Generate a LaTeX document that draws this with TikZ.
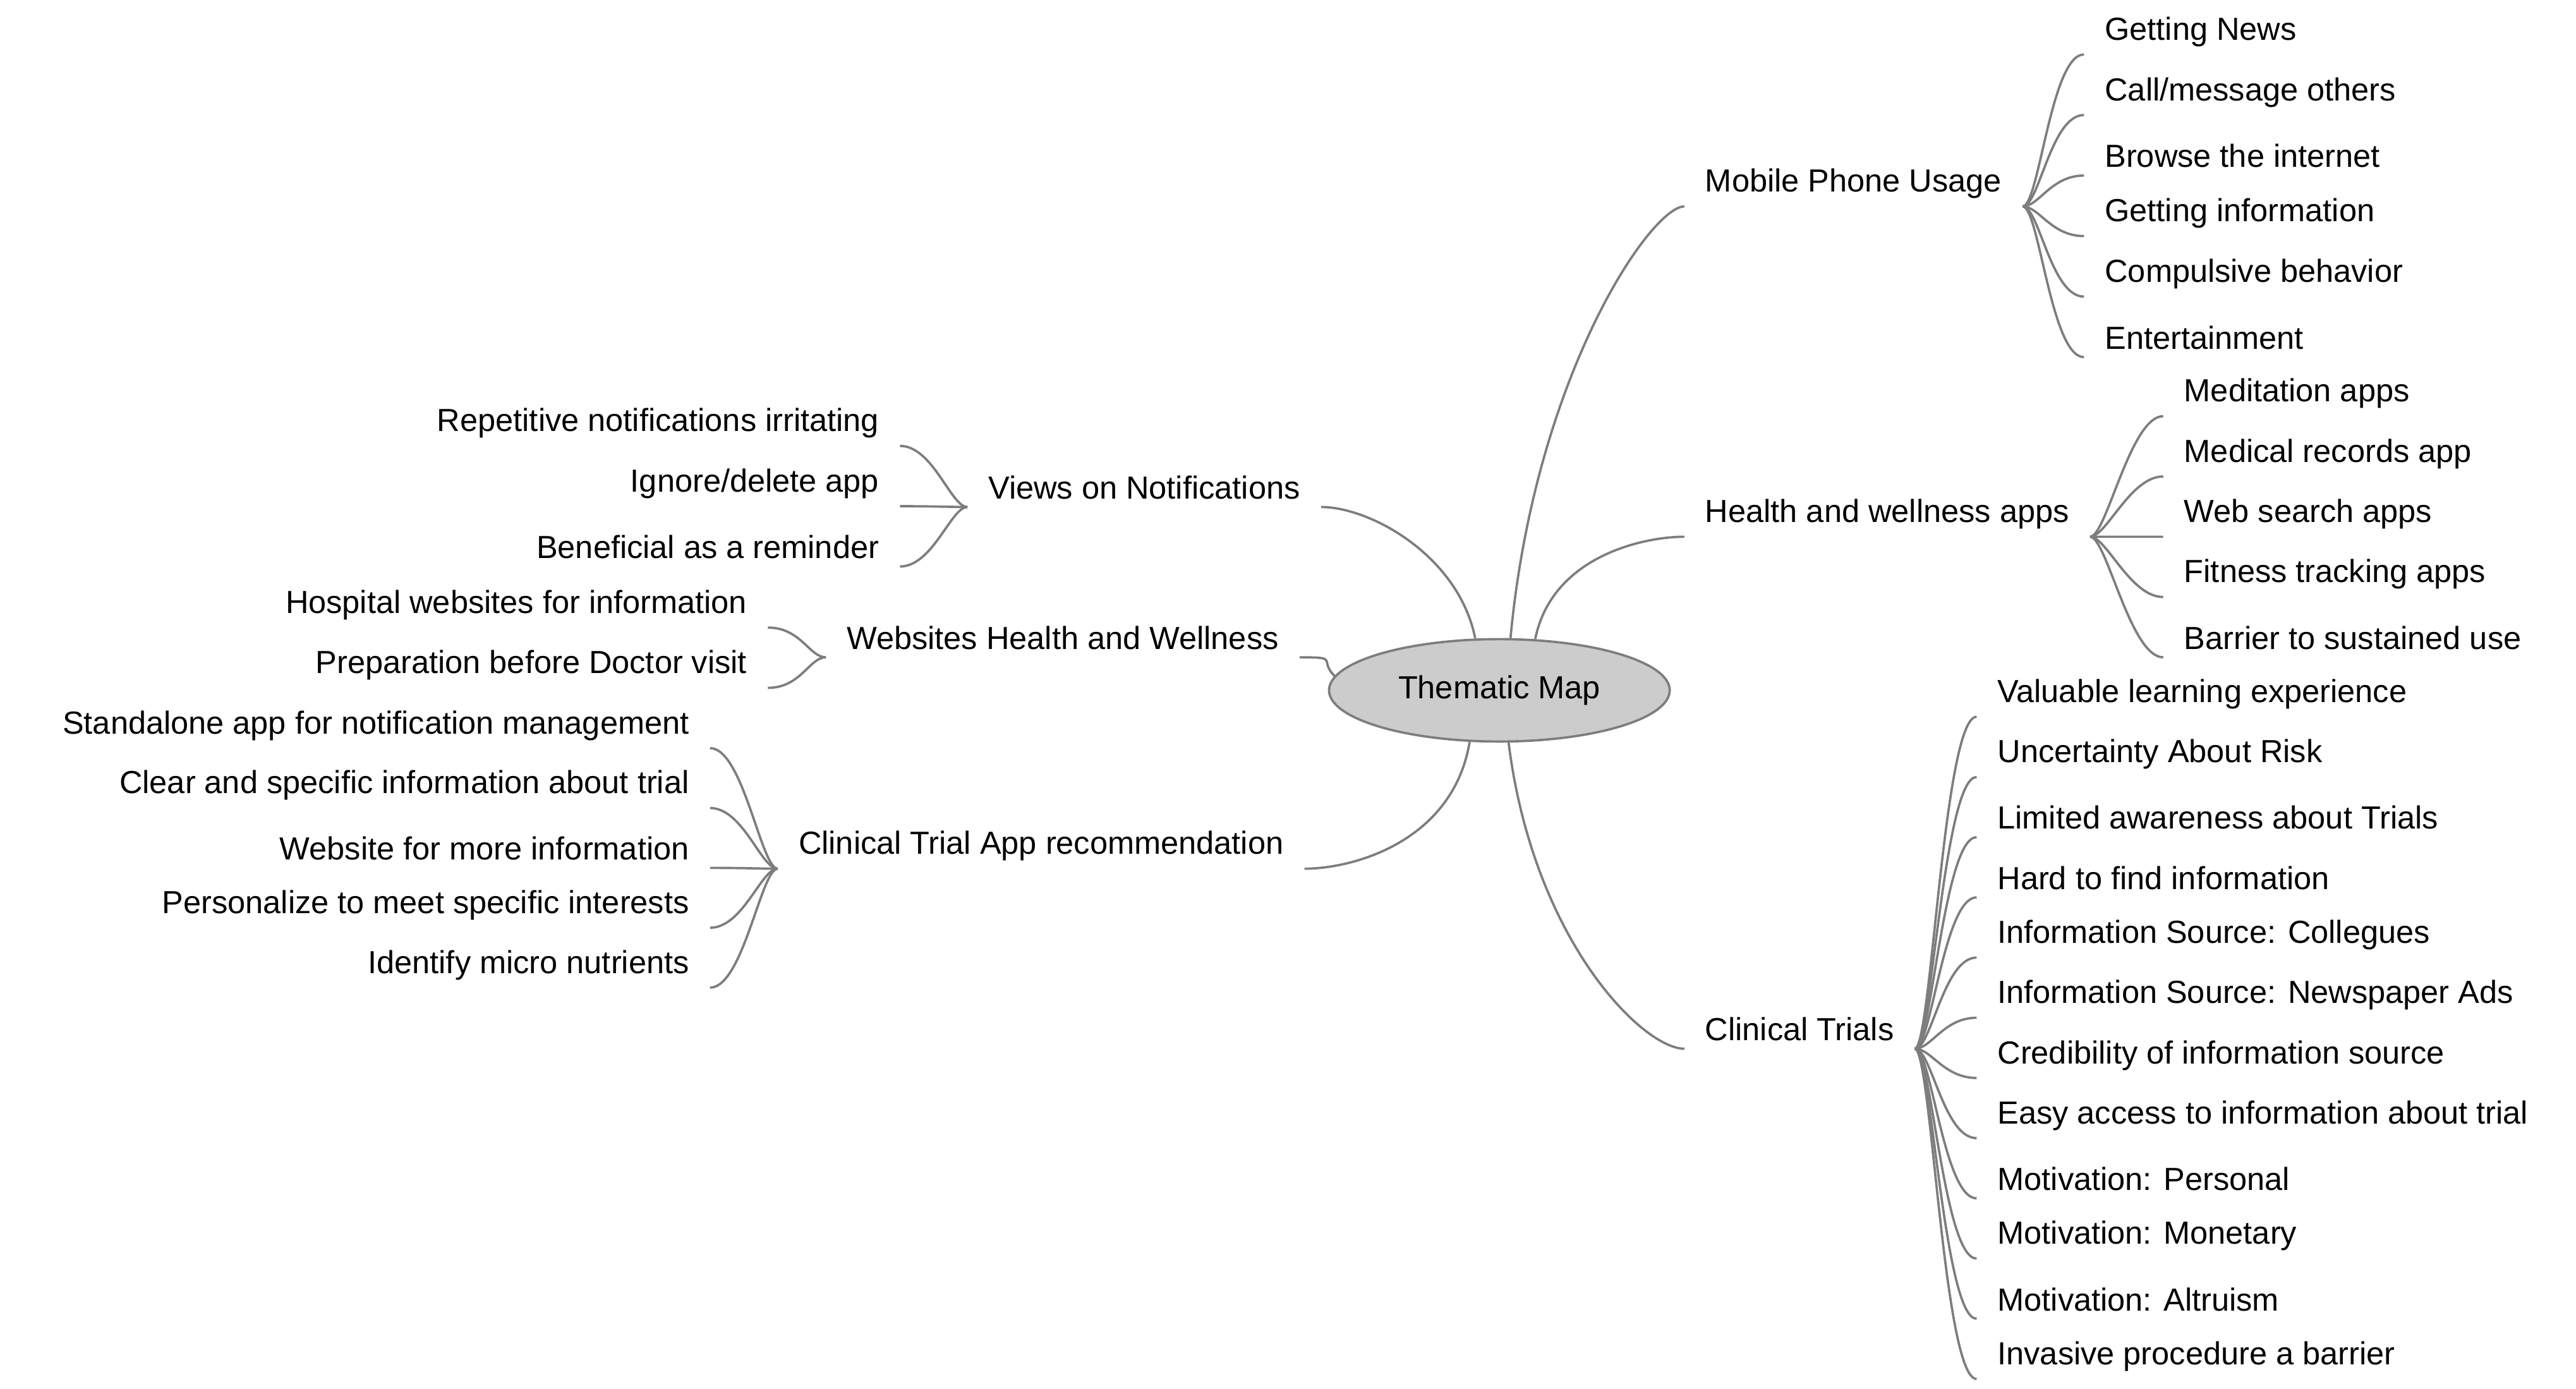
\documentclass[tikz,border=0pt]{standalone}
\usepackage{fontspec}
\setmainfont{Liberation Sans}
\usetikzlibrary{positioning,shapes.geometric}
\definecolor{linegray}{RGB}{125,125,125}
\tikzset{
  topic/.style={inner xsep=0.12cm,inner ysep=0.04cm,font=\fontsize{5.5}{6}\selectfont,
    append after command={[draw=linegray,line width=0.4pt] (\tikzlastnode.south west) -- (\tikzlastnode.south east)}},
  rleaf/.style={topic,anchor=south west},
  lleaf/.style={topic,anchor=south east},
  branch/.style={draw=linegray,line width=0.4pt},
  hub/.style={ellipse,draw=linegray,fill=black!20,minimum width=1.6cm,minimum height=0.62cm,font=\fontsize{5.5}{6}\selectfont}
}
\begin{document}
\begin{tikzpicture}
    \useasboundingbox (0,0) rectangle (15.6,-8.41);
    \node[hub] (tm) at (9.08,-4.18) {Thematic Map};

    % right side
    \node[rleaf] (mp) at (10.20,-1.25) {Mobile Phone Usage};
    \node[rleaf] (hw) at (10.20,-3.25) {Health and wellness apps};
    \node[rleaf] (ct) at (10.20,-6.35) {Clinical Trials};
    \draw[branch] (tm.78) .. controls +(0.15,1.6) and +(-0.2,0) .. (mp.south west);
    \draw[branch] (tm.55) .. controls +(0.1,0.5) and +(-0.25,0) .. (hw.south west);
    \draw[branch] (tm.-80) .. controls +(0.15,-1.2) and +(-0.25,0) .. (ct.south west);

    \foreach \t [count=\i] in {Getting News,Call/message others,Browse the internet,Getting information,Compulsive behavior,Entertainment}{
      \pgfmathsetmacro{\yy}{-0.33-0.3665*(\i-1)}
      \node[rleaf] (mp\i) at (12.62,\yy) {\t};
      \draw[branch] (mp.south east) .. controls +(0.1,0) and +(-0.2,0) .. (mp\i.south west);
    }
    \foreach \t [count=\i] in {Meditation apps,Medical records app,Web search apps,Fitness tracking apps,Barrier to sustained use}{
      \pgfmathsetmacro{\yy}{-2.52-0.365*(\i-1)}
      \node[rleaf] (hw\i) at (13.10,\yy) {\t};
      \draw[branch] (hw.south east) .. controls +(0.1,0) and +(-0.2,0) .. (hw\i.south west);
    }
    \foreach \t [count=\i] in {Valuable learning experience,Uncertainty About Risk,Limited awareness about Trials,Hard to find information,Information Source: Collegues,Information Source: Newspaper Ads,Credibility of information source,Easy access to information about trial,Motivation: Personal,Motivation: Monetary,Motivation: Altruism,Invasive procedure a barrier}{
      \pgfmathsetmacro{\yy}{-4.34-0.3645*(\i-1)}
      \node[rleaf] (ct\i) at (11.97,\yy) {\t};
      \draw[branch] (ct.south east) .. controls +(0.1,0) and +(-0.2,0) .. (ct\i.south west);
    }

    % left side
    \node[lleaf] (vn) at (8.00,-3.07) {Views on Notifications};
    \node[lleaf] (wh) at (7.87,-3.98) {Websites Health and Wellness};
    \node[lleaf] (ca) at (7.90,-5.26) {Clinical Trial App recommendation};
    \draw[branch] (tm.115) .. controls +(-0.1,0.5) and +(0.3,0) .. (vn.south east);
    \draw[branch] (tm.175) .. controls +(-0.1,0.1) and +(0.25,0) .. (wh.south east);
    \draw[branch] (tm.240) .. controls +(-0.1,-0.6) and +(0.3,0) .. (ca.south east);

    \foreach \t [count=\i] in {Repetitive notifications irritating,Ignore/delete app,Beneficial as a reminder}{
      \pgfmathsetmacro{\yy}{-2.70-0.365*(\i-1)}
      \node[lleaf] (vn\i) at (5.45,\yy) {\t};
      \draw[branch] (vn.south west) .. controls +(-0.1,0) and +(0.2,0) .. (vn\i.south east);
    }
    \foreach \t [count=\i] in {Hospital websites for information,Preparation before Doctor visit}{
      \pgfmathsetmacro{\yy}{-3.80-0.365*(\i-1)}
      \node[lleaf] (wh\i) at (4.65,\yy) {\t};
      \draw[branch] (wh.south west) .. controls +(-0.1,0) and +(0.2,0) .. (wh\i.south east);
    }
    \foreach \t [count=\i] in {Standalone app for notification management,Clear and specific information about trial,Website for more information,Personalize to meet specific interests,Identify micro nutrients}{
      \pgfmathsetmacro{\yy}{-4.53-0.3625*(\i-1)}
      \node[lleaf] (ca\i) at (4.30,\yy) {\t};
      \draw[branch] (ca.south west) .. controls +(-0.1,0) and +(0.2,0) .. (ca\i.south east);
    }
\end{tikzpicture}
\end{document}
